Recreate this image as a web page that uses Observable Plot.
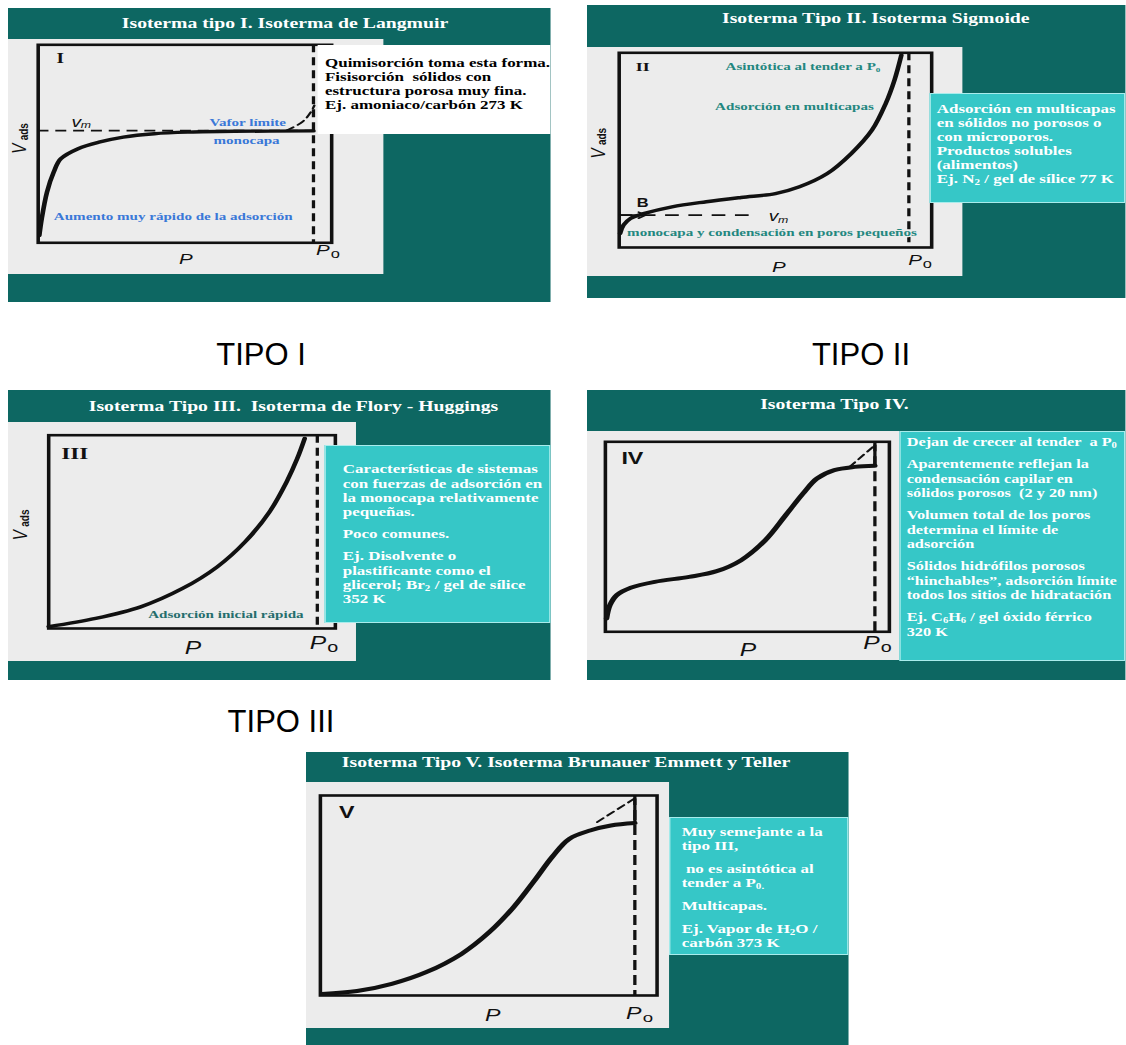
<!DOCTYPE html>
<html><head><meta charset="utf-8">
<script src="https://cdn.jsdelivr.net/npm/d3@7"></script>
<script src="https://cdn.jsdelivr.net/npm/@observablehq/plot@0.6"></script>
<style>
html,body{margin:0;padding:0;background:#fff;}
#root{position:relative;width:1126px;height:1045px;overflow:hidden;background:#fff;}
.slide{position:absolute;transform-origin:0 0;overflow:hidden;}
.abs{position:absolute;}
.title{position:absolute;color:#fff;font-family:"Liberation Serif",serif;font-weight:bold;font-size:14.4px;line-height:1;white-space:pre;transform:translateX(-50%);}
.ln{position:absolute;font-family:"Liberation Serif",serif;font-weight:bold;line-height:14px;white-space:pre;}
.ln sub{font-size:65%;vertical-align:-0.25em;line-height:0;}
.tipo{position:absolute;font-family:"Liberation Sans",Arial,sans-serif;font-size:31px;line-height:1;color:#000;white-space:pre;transform:translateX(-50%);}
</style></head><body><div id="root"></div>
<script>
// ---------------- data ----------------
const panelTitles = [
  "Isoterma tipo I. Isoterma de Langmuir",
  "Isoterma Tipo II. Isoterma Sigmoide",
  "Isoterma Tipo III.  Isoterma de Flory - Huggings",
  "Isoterma Tipo IV.",
  "Isoterma Tipo V. Isoterma Brunauer Emmett y Teller"
];
const tipoLabels = ["TIPO I", "TIPO II", "TIPO III"];

// curves in frame-relative units: P/P0 (0..1) , Vads (0..1)
const tipo1Curve = [[0.004,0.037],[0.012,0.121],[0.03,0.256],[0.053,0.357],[0.077,0.424],[0.136,0.475],[0.207,0.508],[0.29,0.534],[0.396,0.551],[0.515,0.559],[0.669,0.563],[0.938,0.565]];
const tipo1Knee  = [[0.846,0.567],[0.899,0.609],[0.929,0.66],[0.941,0.694]];
const tipo2Curve = [[0.003,0.072],[0.014,0.115],[0.036,0.149],[0.081,0.175],[0.169,0.209],[0.279,0.235],[0.39,0.257],[0.5,0.277],[0.577,0.312],[0.666,0.38],[0.743,0.483],[0.809,0.603],[0.853,0.74],[0.881,0.86],[0.903,0.988]];
const tipo3Curve = [[0,0.009],[0.164,0.052],[0.321,0.112],[0.467,0.207],[0.588,0.319],[0.685,0.448],[0.77,0.603],[0.83,0.759],[0.867,0.879],[0.893,0.983]];
const tipo4Curve = [[0.004,0.07],[0.016,0.14],[0.04,0.193],[0.089,0.232],[0.174,0.263],[0.295,0.289],[0.392,0.319],[0.478,0.377],[0.563,0.482],[0.635,0.614],[0.696,0.728],[0.745,0.807],[0.806,0.851],[0.878,0.868],[0.949,0.874]];
const tipo4Knee  = [[0.86,0.868],[0.949,0.982]];
const tipo5Curve = [[0.005,0.008],[0.109,0.022],[0.212,0.058],[0.315,0.117],[0.419,0.208],[0.502,0.317],[0.574,0.442],[0.636,0.575],[0.688,0.692],[0.739,0.783],[0.801,0.825],[0.863,0.85],[0.934,0.862]];
const tipo5Knee  = [[0.822,0.867],[0.931,0.983]];

const p0Lines = [0.938, 0.927, 0.937, 0.949, 0.934];
const vmLines = [
  {panel:0, y:0.567, x1:0, x2:0.938},
  {panel:1, y:0.166, x1:0, x2:0.445}
];
const numerals = [
  {panel:0, x:0.075, y:0.933, t:"I"},
  {panel:1, x:0.075, y:0.928, t:"II"},
  {panel:2, x:0.091, y:0.905, t:"III"},
  {panel:3, x:0.095, y:0.912, t:"IV"},
  {panel:4, x:0.078, y:0.917, t:"V"}
];
const annotations = [
  {panel:0, x:0.714, y:0.609, t:"Vafor límite"},
  {panel:0, x:0.71,  y:0.517, t:"monocapa"},
  {panel:0, x:0.46,  y:0.135, t:"Aumento muy rápido de la adsorción"},
  {panel:1, x:0.588, y:0.928, t:"Asintótica al tender a P₀"},
  {panel:1, x:0.561, y:0.723, t:"Adsorción en multicapas"},
  {panel:1, x:0.489, y:0.075, t:"monocapa y condensación en poros pequeños"},
  {panel:2, x:0.618, y:0.072, t:"Adsorción inicial rápida"}
];
const pLabels  = [{panel:0,x:0.503,y:-0.081},{panel:1,x:0.511,y:-0.099},{panel:2,x:0.503,y:-0.103},{panel:3,x:0.502,y:-0.096},{panel:4,x:0.512,y:-0.1}];
const p0Labels = [{panel:0,x:0.97,y:-0.039},{panel:1,x:0.947,y:-0.065},{panel:2,x:0.939,y:-0.078},{panel:3,x:0.937,y:-0.061},{panel:4,x:0.931,y:-0.092}];
const vadsLabels = [{panel:0,x:-0.063,y:0.475},{panel:1,x:-0.068,y:0.483},{panel:2,x:-0.097,y:0.483}];
const vmLabels = [{panel:0,x:0.13,y:0.609},{panel:1,x:0.494,y:0.158}];
const bLabels = [{panel:1,x:0.075,y:0.23,t:"B"}];
const bArrow = [{panel:1,x1:0.005,y1:0.166,x2:0.085,y2:0.166}];

const boxTexts = [
  [["Quimisorción toma esta forma.","Fisisorción  sólidos con","estructura porosa muy fina.","Ej. amoniaco/carbón 273 K"]],
  [["Adsorción en multicapas","en sólidos no porosos o","con microporos.","Productos solubles","(alimentos)","Ej. N<sub>2</sub> / gel de sílice 77 K"]],
  [["Características de sistemas","con fuerzas de adsorción en","la monocapa relativamente","pequeñas."],["Poco comunes."],["Ej. Disolvente o","plastificante como el","glicerol; Br<sub>2</sub> / gel de sílice","352 K"]],
  [["Dejan de crecer al tender  a P<sub>0</sub>"],["Aparentemente reflejan la","condensación capilar en","sólidos porosos  (2 y 20 nm)"],["Volumen total de los poros","determina el límite de","adsorción"],["Sólidos hidrófilos porosos","“hinchables”, adsorción límite","todos los sitios de hidratación"],["Ej. C<sub>6</sub>H<sub>6</sub> / gel óxido férrico","320 K"]],
  [["Muy semejante a la","tipo III,"],[" no es asintótica al","tender a P<sub>0.</sub>"],["Multicapas."],["Ej. Vapor de H<sub>2</sub>O /","carbón 373 K"]]
];
const curves = [tipo1Curve, tipo2Curve, tipo3Curve, tipo4Curve, tipo5Curve];
const kneeCurves = [tipo1Knee, null, null, tipo4Knee, tipo5Knee];

// ---------------- layout & style ----------------
const K = 1.37; // horizontal stretch of the slides
const TEAL = "#0d6762", CYAN = "#36c7c7", GREY = "#ececec", INK = "#111";
const layout = [
  {slide:{x:8,y:8,w:542,h:294}, grey:{x:8,y:39,w:375,h:235}, frame:{x:37.5,y:44.3,w:293.5,h:198}, title:{cx:285,cy:23.5},
   box:{x:318,y:45,w:232,h:89,bg:"#ffffff",border:"none",color:"#000",tx:325,y0:63,lh:14,gap:0,fs:12.4}, annColor:"#3a78d8", numSize:14, numFont:"Liberation Serif", pSize:15},
  {slide:{x:587,y:5,w:539,h:293}, grey:{x:587,y:47.3,w:376,h:229}, frame:{x:618.5,y:52.3,w:312.5,h:194.7}, title:{cx:875.8,cy:18},
   box:{x:930,y:93,w:196,h:110,bg:CYAN,border:"1px solid #a9ecec",color:"#fff",tx:936.7,y0:109.3,lh:14,gap:0,fs:12.4}, annColor:"#23877f", numSize:13, numFont:"Liberation Serif", pSize:15},
  {slide:{x:8,y:390,w:542,h:290}, grey:{x:8,y:422.3,w:347.6,h:239}, frame:{x:48,y:434.7,w:286.7,h:193.3}, title:{cx:293.5,cy:406.3},
   box:{x:324.3,y:445.3,w:225.7,h:177.7,bg:CYAN,border:"1px solid #a9ecec",color:"#fff",tx:342.7,y0:469.3,lh:14.2,gap:8,fs:12.4}, annColor:"#256e6c", numSize:17, numFont:"Liberation Serif", pSize:18},
  {slide:{x:587,y:390,w:539,h:290}, grey:{x:587,y:431.3,w:312,h:228.4}, frame:{x:604.7,y:441.3,w:284,h:190}, title:{cx:834.4,cy:404.7},
   box:{x:899,y:431.3,w:227,h:230,bg:CYAN,border:"1px solid #a9ecec",color:"#fff",tx:906.7,y0:442.3,lh:14.5,gap:7.5,fs:11.9}, annColor:"#256e6c", numSize:17, numFont:"Liberation Sans", pSize:18},
  {slide:{x:306,y:752,w:542,h:293}, grey:{x:306,y:782.3,w:363.6,h:246}, frame:{x:319.7,y:795,w:336.7,h:200}, title:{cx:566,cy:762.7},
   box:{x:669.6,y:817,w:178.4,h:138,bg:CYAN,border:"1px solid #a9ecec",color:"#fff",tx:681.7,y0:831.7,lh:14,gap:9,fs:12.4}, annColor:"#256e6c", numSize:17, numFont:"Liberation Sans", pSize:17}
];
const tipoPos = [{cx:261,base:365},{cx:861,base:365},{cx:281,base:732}];

const root = document.getElementById("root");
function el(parent, cls, css, html) {
  const d = document.createElement("div");
  if (cls) d.className = cls;
  Object.assign(d.style, css);
  if (html != null) d.innerHTML = html;
  parent.appendChild(d);
  return d;
}
const onPanel = (arr, i) => arr.filter(d => d.panel === i);

layout.forEach((L, i) => {
  const s = L.slide;
  const X = v => (v - s.x) / K, Y = v => v - s.y;
  const slide = el(root, "slide", {left: s.x + "px", top: s.y + "px", width: (s.w / K) + "px", height: s.h + "px", background: TEAL, transform: `scaleX(${K})`});
  el(slide, "abs", {left: X(L.grey.x) + "px", top: Y(L.grey.y) + "px", width: (L.grey.w / K) + "px", height: L.grey.h + "px", background: GREY});
  el(slide, "title", {left: X(L.title.cx) + "px", top: (Y(L.title.cy) - 7.3) + "px"}).textContent = panelTitles[i];

  const f = L.frame;
  const marks = [
    Plot.frame({stroke: INK, strokeWidth: 2.6}),
    Plot.ruleX([p0Lines[i]], {stroke: INK, strokeWidth: 2.4, strokeDasharray: i >= 3 ? "10,5" : "8,5"}),
    Plot.ruleY(onPanel(vmLines, i), {y: "y", x1: "x1", x2: "x2", stroke: INK, strokeWidth: 1.8, strokeDasharray: i === 1 ? "10,7" : "8,5"}),
    Plot.line(curves[i], {curve: "catmull-rom", stroke: INK, strokeWidth: i >= 3 ? 4 : 3.4, strokeLinecap: "round"}),
  ];
  if (kneeCurves[i]) {
    marks.push(Plot.line(kneeCurves[i], {curve: "catmull-rom", stroke: INK, strokeWidth: 1.8, strokeDasharray: "6,4"}));
    if (i >= 3) marks.push(Plot.ruleX([{x: p0Lines[i], y1: curves[i][curves[i].length - 1][1], y2: kneeCurves[i][1][1]}], {x: "x", y1: "y1", y2: "y2", stroke: INK, strokeWidth: 2.4}));
  }
  marks.push(
    Plot.arrow(onPanel(bArrow, i), {x1: "x1", y1: "y1", x2: "x2", y2: "y2", stroke: INK, strokeWidth: 1.6, headLength: 6}),
    Plot.text(onPanel(numerals, i), {x: "x", y: "y", text: "t", fontSize: L.numSize, fontWeight: "bold", fontFamily: L.numFont, fill: INK}),
    Plot.text(onPanel(annotations, i), {x: "x", y: "y", text: "t", fontSize: 11, fontWeight: "bold", fontFamily: "Liberation Serif", fill: L.annColor, stroke: GREY, strokeWidth: 2.5}),
    Plot.text(onPanel(bLabels, i), {x: "x", y: "y", text: "t", fontSize: 12, fontWeight: "bold", fontFamily: "Liberation Sans", fill: INK}),
    Plot.text(onPanel(vmLabels, i), {x: "x", y: "y", text: () => "v", fontSize: 14, fontStyle: "italic", fontFamily: "Liberation Sans", fill: INK}),
    Plot.text(onPanel(vmLabels, i), {x: "x", y: "y", text: () => "m", dx: 7, dy: 3, fontSize: 9, fontStyle: "italic", fontFamily: "Liberation Sans", fill: INK}),
    Plot.text(onPanel(pLabels, i), {x: "x", y: "y", text: () => "P", fontSize: L.pSize, fontStyle: "italic", fontFamily: "Liberation Sans", fill: INK}),
    Plot.text(onPanel(p0Labels, i), {x: "x", y: "y", text: () => "P", fontSize: L.pSize, fontStyle: "italic", fontFamily: "Liberation Sans", fill: INK}),
    Plot.text(onPanel(p0Labels, i), {x: "x", y: "y", text: () => "o", dx: L.pSize * 0.6, dy: 4, fontSize: L.pSize * 0.8, fontFamily: "Liberation Sans", fill: INK}),
    Plot.text(onPanel(vadsLabels, i), {x: "x", y: "y", text: () => "V", rotate: -90, fontSize: 15, fontStyle: "italic", fontFamily: "Liberation Sans", fill: INK}),
    Plot.text(onPanel(vadsLabels, i), {x: "x", y: "y", text: () => "ads", rotate: -90, dx: 3, dy: -17, fontSize: 10, fontWeight: "bold", fontFamily: "Liberation Sans", fill: INK})
  );
  const svg = Plot.plot({
    width: s.w / K, height: s.h,
    marginLeft: (f.x - s.x) / K, marginRight: (s.x + s.w - f.x - f.w) / K,
    marginTop: f.y - s.y, marginBottom: s.y + s.h - f.y - f.h,
    x: {domain: [0, 1], axis: null}, y: {domain: [0, 1], axis: null},
    style: {background: "transparent", overflow: "visible", position: "absolute", left: "0px", top: "0px"},
    marks
  });
  slide.appendChild(svg);

  const B = L.box;
  el(slide, "abs", {left: X(B.x) + "px", top: Y(B.y) + "px", width: (B.w / K) + "px", height: B.h + "px", background: B.bg, border: B.border, boxSizing: "border-box"});
  let cy = B.y0;
  boxTexts[i].forEach((para, pi) => {
    if (pi > 0) cy += B.gap;
    para.forEach(line => {
      el(slide, "ln", {left: X(B.tx) + "px", top: (Y(cy) - 7) + "px", color: B.color, fontSize: B.fs + "px"}, line);
      cy += B.lh;
    });
  });
});

tipoLabels.forEach((t, i) => {
  el(root, "tipo", {left: tipoPos[i].cx + "px", top: (tipoPos[i].base - 26.3) + "px"}).textContent = t;
});
</script></body></html>
